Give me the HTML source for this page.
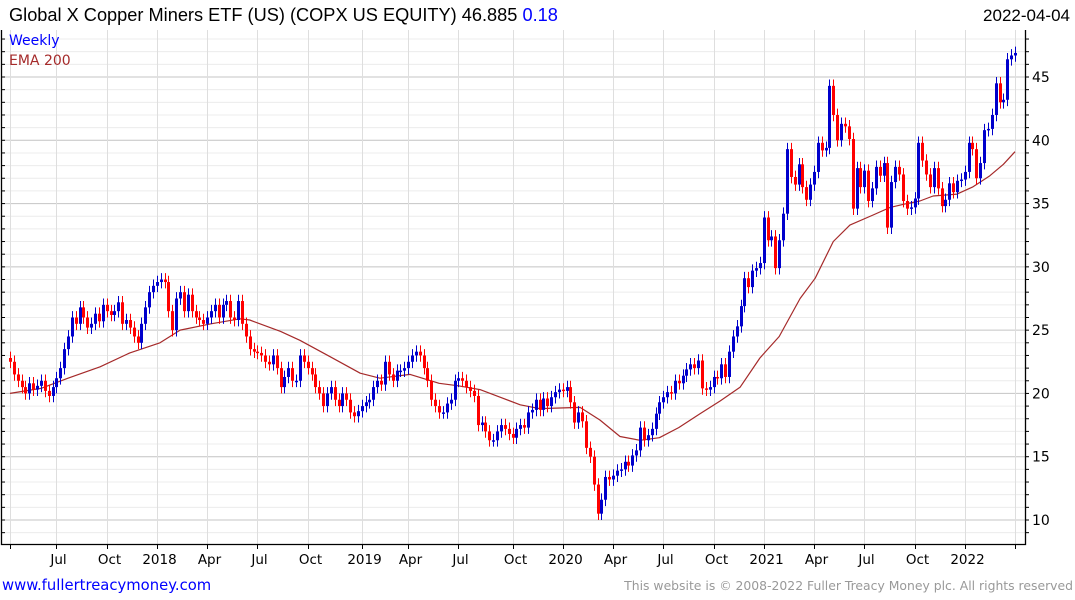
<!DOCTYPE html>
<html><head><meta charset="utf-8">
<style>
html,body{margin:0;padding:0;background:#fff;}
body{width:1075px;height:600px;overflow:hidden;position:relative;font-family:"Liberation Sans","DejaVu Sans",sans-serif;}
</style></head>
<body>
<svg id="chart" width="1075" height="600" xmlns="http://www.w3.org/2000/svg" style="position:absolute;left:0;top:0">
<text x="9" y="21" font-size="18.2" fill="#000" font-family="Liberation Sans, DejaVu Sans, sans-serif">Global X Copper Miners ETF (US) (COPX US EQUITY) 46.885 <tspan fill="#0000ff">0.18</tspan></text>
<text x="1070" y="21" font-size="17" text-anchor="end" fill="#000" font-family="Liberation Sans, DejaVu Sans, sans-serif">2022-04-04</text>
<g id="grid"></g>
<g id="ema"></g>
<g id="candles"></g>
<g id="axes"></g>
<text x="9" y="45" font-size="14" fill="#0000ff" font-family="DejaVu Sans, sans-serif">Weekly</text>
<text x="9" y="65" font-size="14" fill="#a52a2a" font-family="DejaVu Sans, sans-serif">EMA 200</text>
<text x="2" y="590" font-size="14.8" fill="#0000ff" font-family="DejaVu Sans, sans-serif">www.fullertreacymoney.com</text>
<text x="1073" y="590" font-size="12.4" text-anchor="end" fill="#999" font-family="DejaVu Sans, sans-serif">This website is © 2008-2022 Fuller Treacy Money plc. All rights reserved</text>
</svg>
<script>
const closes = [
22.5,21.5,21,20.5,20,20.8,20.3,20.6,21,20.2,19.8,20.5,21.2,
22,23.5,24.5,26,25.5,26.8,26,25.2,25.5,26.3,25.7,27,26.5,
26.2,26.5,27.2,25.5,25.8,25.2,24.5,24,25.5,26.8,28,28.5,28.8,
29,28.8,26.5,25,27.5,28,26.5,27.8,26.5,26,25.8,25.5,26,
26.5,27,26,27,27.3,26,25.8,27.3,25.5,24.5,23.5,23.3,23.2,
23,22.5,22.3,23,22,20.5,21.3,22,21,21,23,22.5,22,
21.5,20.5,20,19,20,20.5,19.5,19,20,19.5,18.5,18.2,18.6,
19,19.3,19.5,20.5,21,20.7,22.5,21.5,21,21.8,21.8,22,22.5,
23,23.3,23,22,21,19.5,19,18.5,18.5,19.2,19.5,21,21.2,
21,20.5,20.2,19.8,17.5,17.7,17,16.3,16.3,17,17.5,17.2,16.8,
16.5,17.2,17.5,17.3,18.5,18.7,19.5,18.7,19.6,19,19.7,20.1,20.3,
20.2,20.5,19.3,17.7,18.5,17.8,15.7,15,12.8,10.5,11.6,13.4,13.2,
13.5,13.9,14,14.6,14.3,15.1,15.5,17.3,16.3,16.7,17.2,18.4,
19.3,19.7,20.1,20.0,21.0,20.8,21.4,21.9,22.3,22,22.6,20.4,20.3,
20.5,21.3,21.2,22.3,21.3,23.3,24.5,25.3,26.9,29.1,28.4,29.7,
29.9,30.3,33.9,32.1,32.4,29.9,32.1,34.2,39.3,37.1,36.5,38.1,
36.3,35.3,36.5,37.5,39.8,39.2,39.4,44.3,42,40.0,41.3,41.1,
40.1,34.6,37.8,36.3,37.6,35.2,36.2,37.9,37.2,38.2,33.1,36.7,
37.9,37.3,35.2,34.6,34.7,35.4,39.8,38.4,37.3,36.3,37.8,36.2,
34.8,35.3,36.6,35.9,36.8,36.9,37.5,39.8,39.3,37.0,38.2,40.8,
40.9,42,44.5,43,43.2,46.4,46.7,46.9
];
const emaWeeks = [0,8,15,23.3,31,38.8,44,52,59.5,62,70,75,82.8,90.6,95.7,103.5,111,116,121.6,126.8,132,137,147.5,152.6,157.8,163,168,173,178.5,183.7,188.9,194,199,204.4,208.3,213,217.3,223.3,227.7,232,235.4,238.8,245,249,253.5,257,260];
const emaValues = [20.0,20.4,21.2,22.1,23.2,24.0,25.0,25.5,25.9,25.8,24.9,24.2,22.9,21.6,21.2,21.5,20.8,20.6,20.3,19.7,19.1,18.8,18.9,17.9,16.6,16.3,16.5,17.3,18.4,19.4,20.5,22.8,24.5,27.5,29.1,32.0,33.3,34.1,34.7,35.0,35.2,35.6,35.75,36.3,37.2,38.1,39.1];
const yTicks = [10,15,20,25,30,35,40,45];
const xTickWeeks = [0,12,25,38,51,64,77,91,103,116,130,143,156,169,182,195,208,221,234,247,260];
const xTickLabels = ["","Jul","Oct","2018","Apr","Jul","Oct","2019","Apr","Jul","Oct","2020","Apr","Jul","Oct","2021","Apr","Jul","Oct","2022",""];

const NS="http://www.w3.org/2000/svg";
const L=1, R=1025, T=30, B=544;
const X0=10, X1=1015;
const N=closes.length;
function xs(i){return X0+(X1-X0)*i/(N-1);}
function ys(v){return 520-(v-10)*(443/35);}
function mk(tag,attrs,parent){const e=document.createElementNS(NS,tag);for(const k in attrs)e.setAttribute(k,attrs[k]);parent.appendChild(e);return e;}
const grid=document.getElementById('grid'), axes=document.getElementById('axes');
for(let v=9;v<=48;v++){
  const y=ys(v); if(y<T||y>B) continue;
  const ln=mk('line',{x1:L,x2:R,y1:y,y2:y,stroke:v%5===0?'#c4c4c4':'#ececec','stroke-width':1},grid);
  
  
  const t1=mk('line',{x1:L,x2:L+4,y1:y,y2:y,stroke:'#000'},axes);
  
  
  const t2=mk('line',{x1:R,x2:R+4,y1:y,y2:y,stroke:'#000'},axes);
  
  
}
xTickWeeks.forEach((w,k)=>{
  const x=Math.round(xs(w))+0.5;
  const g=mk('line',{x1:x,x2:x,y1:T,y2:B,stroke:'#dedede'},grid);
  
  
  const tk=mk('line',{x1:x,x2:x,y1:B,y2:B+5,stroke:'#000'},axes);
  
  
  if(xTickLabels[k]){
    const t=mk('text',{x:x+2,y:564,'font-size':13.5,'text-anchor':'middle',fill:'#000','font-family':'DejaVu Sans, sans-serif'},axes);
    t.textContent=xTickLabels[k];
    
    
  }
});
yTicks.forEach(v=>{
  const t=mk('text',{x:1032,y:ys(v)+5,'font-size':14,fill:'#000','font-family':'DejaVu Sans, sans-serif'},axes);
  t.textContent=String(v);
  
  
});
const fr=mk('path',{d:`M${L+0.5},${T} V${B+0.5} H${R+0.5} V${T}`,fill:'none',stroke:'#000','stroke-width':1.3},axes);


let d='';
emaWeeks.forEach((w,k)=>{d+=(k?'L':'M')+xs(w).toFixed(1)+','+ys(emaValues[k]).toFixed(1);});
const ep=mk('path',{d:d,fill:'none',stroke:'#a52a2a','stroke-width':1.2,'stroke-linejoin':'round'},document.getElementById('ema'));


const cg=document.getElementById('candles');
closes.forEach((c,i)=>{
  const o=i?closes[i-1]:c+0.3;
  const up=c>=o, col=up?'#0000cc':'#ff0000';
  const x=Math.round(xs(i));
  const hi=Math.max(o,c)+0.5, lo=Math.min(o,c)-0.5;
  const w=mk('line',{x1:x+0.5,x2:x+0.5,y1:ys(hi),y2:ys(lo),stroke:col,'stroke-width':1},cg);
  
  
  const top=ys(Math.max(o,c)), bot=ys(Math.min(o,c));
  const b=mk('rect',{x:x-1,y:top,width:3,height:Math.max(1.5,bot-top),fill:col},cg);
  
  
});
</script>
</body></html>
